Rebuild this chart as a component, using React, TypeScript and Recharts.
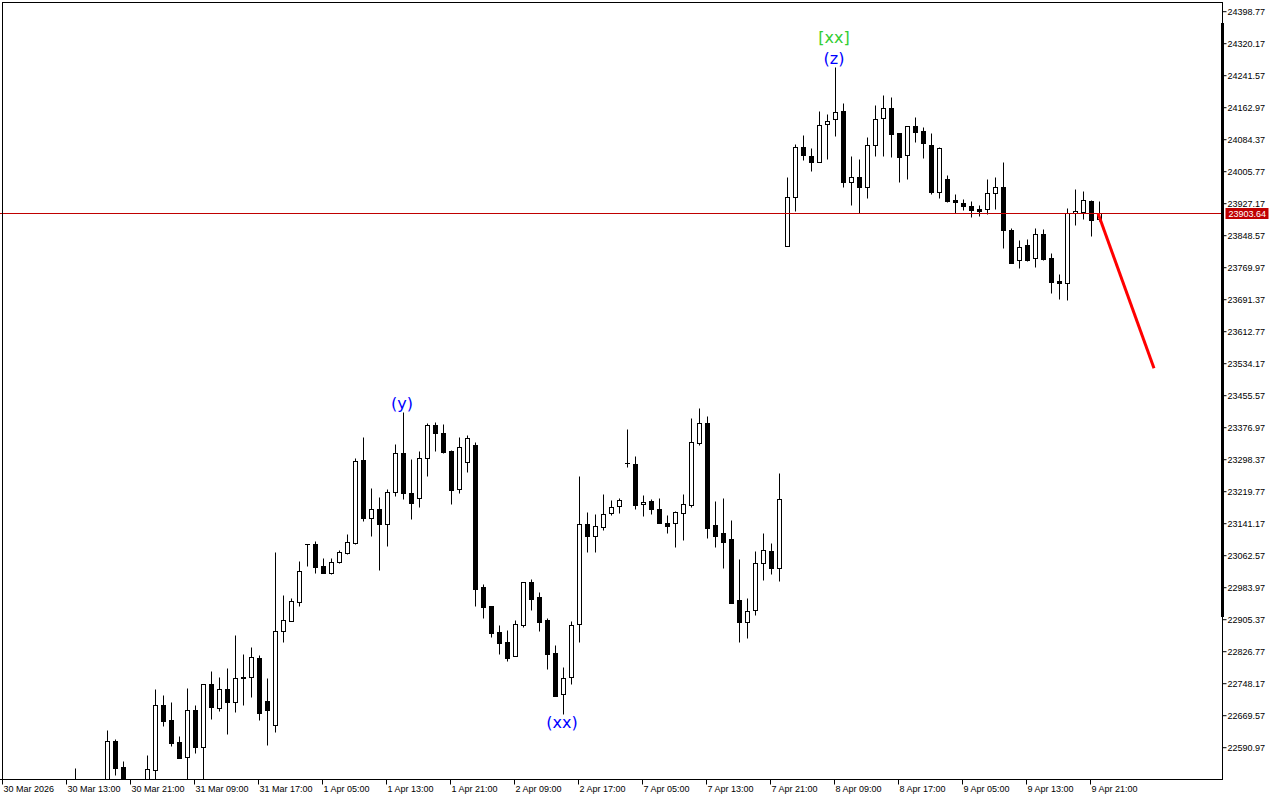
import React from 'react';
import { ComposedChart, Bar, Line, XAxis, YAxis, ReferenceLine, ReferenceDot } from 'recharts';

// ---------- data ----------
const FIRST_BAR = 9; // slot index of first candle in the arrays
const SLOT_COUNT = 153; // hourly slots across the visible window

const opens: (number | null)[] = [
  22495, null, null, null, 22470, 22607.6, 22543.8, null, null, 22480,
  22536, 22696, 22659, 22605, 22569, 22683.7, 22593.7, 22747, 22689.4, 22735.3,
  22704, 22764, 22764, 22810.7, 22706.4, 22647, 22877.7, 22903, 22949.7, 23090.6,
  23090.6, 23037.4, 23021, 23046.5, 23070, 23093.1, 23297.7, 23156, 23177.4, 23139.8,
  23218.4, 23314.2, 23216, 23203.6, 23301.8, 23383.7, 23364.8, 23320.5, 23226.5, 23293.6,
  23334.5, 22985, 22939, 22875.3, 22850.8, 22817, 22892.4, 22998.8, 22962, 22904.7,
  22823, 22722.3, 22765.5, 22894, 23139.8, 23111.8, 23134, 23166.8, 23185.5, 23289.6,
  23287.9, 23188.9, 23197, 23177.4, 23143, 23142.2, 23168.4, 23187.3, 23340.2, 23387.8,
  23138, 23117.6, 23103.7, 22953.8, 22900.6, 22928.4, 23044, 23074.2, 23031.6, 23824,
  23944.4, 24065.7, 24044.3, 24030.4, 24122.2, 24134.5, 24154.9, 23979.7, 23992, 23969,
  24071.4, 24137, 24161.5, 24100.1, 24046.8, 24118, 24105.8, 24071.4, 23955.2, 23987.9,
  23936.9, 23928.9, 23922.2, 23913.4, 23913.4, 23952.7, 23967.5, 23862.6, 23788.9, 23825.7,
  23793, 23852.8, 23793, 23737.3, 23731.6, 23903.6, 23907.5, 23934.6, 23889,
];
const highs: (number | null)[] = [
  22541, null, null, null, 22634.6, 22612.5, 22558.5, null, null, 22573,
  22735.3, 22720.6, 22702.6, 22619.9, 22737.8, 22696, 22747, 22779.5, 22765.5, 22787.7,
  22868, 22821, 22838.4, 22818.8, 22761.6, 23071, 22966, 22958, 23049.7, 23090.6,
  23098.8, 23056.3, 23056.3, 23076.6, 23115.2, 23301.8, 23353.5, 23228, 23206, 23226.5,
  23337, 23416.4, 23299.5, 23320.5, 23387.8, 23390.3, 23386, 23322, 23353.5, 23359.1,
  23341, 22993.1, 22939, 22892.4, 22880, 22904.7, 22998.8, 23004.7, 22974.3, 22908.9,
  22842.6, 22788.5, 22902.3, 23258.4, 23169.3, 23165.1, 23214, 23199.4, 23203.6, 23373.9,
  23307.6, 23211.8, 23201.9, 23203.6, 23162.7, 23172.5, 23214, 23400, 23424.6, 23405.8,
  23197, 23203.6, 23150.4, 23054.5, 22958, 23074.2, 23117.6, 23093.1, 23266.5, 23992,
  24073.8, 24096, 24063.3, 24154.9, 24147.5, 24262, 24173.8, 24044.3, 24036.2, 24091.8,
  24169.6, 24194.2, 24190, 24100.1, 24118, 24139.4, 24116.3, 24100.1, 24067.2, 23997.7,
  23951.7, 23938, 23933.8, 23924, 23987.9, 23993.5, 24028.9, 23866.8, 23838, 23840.5,
  23866.8, 23864.3, 23805.4, 23753.8, 23916, 23962.6, 23958.4, 23936.3, 23933.8,
];
const lows: (number | null)[] = [
  22460, null, null, null, 22460, 22524, 22470, null, null, 22470,
  22500, 22645, 22596, 22566.5, 22505, 22577, 22500, 22661.6, 22682, 22624,
  22679.5, 22697, 22716, 22659, 22597, 22630, 22851.5, 22902, 22939, 23038,
  23019, 23021, 23017, 23044, 23066.8, 23091.4, 23148, 23111.8, 23027.5, 23087.2,
  23209.3, 23201.2, 23152, 23181.5, 23259, 23319.8, 23315.6, 23189.9, 23217.4, 23269,
  22939.8, 22910.3, 22863.7, 22820, 22804.8, 22817, 22888, 22929.3, 22877.7, 22784.5,
  22718.9, 22673, 22746.9, 22851.5, 23072.6, 23072.6, 23125.7, 23162.7, 23168.4, 23281.3,
  23176.7, 23161, 23166, 23142.2, 23117.6, 23084.8, 23101, 23183, 23334.5, 23106.9,
  23084.8, 23033.2, 22945.7, 22851.5, 22861.2, 22917, 23003, 23017.7, 23000.5, 23824,
  23910, 24034.5, 24008, 24028.9, 24037, 24094.2, 23969, 23924, 23903.6, 23941.9,
  24045, 24045, 24041.2, 23981.2, 23987.9, 24079.5, 24038.7, 23950.3, 23941.9, 23932.1,
  23904, 23911.7, 23895.3, 23897.7, 23901.1, 23913.4, 23819.1, 23780.8, 23768.5, 23787.2,
  23772.5, 23788.9, 23708.6, 23693.1, 23690.6, 23874.9, 23889.6, 23848, 23884.7,
];
const closes: (number | null)[] = [
  22480, null, null, null, 22607.6, 22542, 22490, null, null, 22538,
  22696, 22656.7, 22603.4, 22566.5, 22683, 22593.7, 22746.9, 22691.9, 22735.3, 22704,
  22762, 22761.6, 22813, 22675.6, 22683.7, 22877.7, 22904.8, 22951.5, 23025, 23090.6,
  23035.6, 23021, 23046.5, 23071, 23095.6, 23295, 23156, 23177.4, 23139.8, 23218.4,
  23314.2, 23216, 23191.4, 23301.8, 23383.7, 23363.3, 23318, 23224, 23329, 23351,
  22980.8, 22937.4, 22873.5, 22847.5, 22812, 22894, 22997.3, 22956.3, 22900.6, 22821,
  22718.9, 22761.6, 22892.4, 23139.8, 23111.8, 23134.9, 23165.1, 23183, 23199.4, 23289.6,
  23187.3, 23193.9, 23176.7, 23143.7, 23136.4, 23169.3, 23188.9, 23341, 23387.8, 23131.4,
  23111.8, 23097, 22947.2, 22900.6, 22926.8, 23044, 23076.6, 23031.6, 23201.2, 23944.4,
  24065.7, 24046.8, 24030.4, 24120.5, 24129.6, 24153.2, 23981.2, 23992, 23969, 24070.6,
  24134.5, 24161.5, 24098.4, 24042.6, 24118, 24104, 24075.6, 23956.7, 24063.3, 23933.9,
  23930.4, 23920.6, 23910.7, 23909.3, 23952.7, 23967.5, 23862.6, 23782.3, 23821.6, 23788.9,
  23852, 23791.4, 23735.6, 23731.6, 23903.6, 23909.3, 23936.3, 23887.2, 23903.64,
];

const timeTicks = [0, 8, 16, 24, 32, 40, 48, 56, 64, 72, 80, 88, 96, 104, 112, 120, 128, 136];
const timeLabels = [
  '30 Mar 2026', '30 Mar 13:00', '30 Mar 21:00', '31 Mar 09:00', '31 Mar 17:00',
  '1 Apr 05:00', '1 Apr 13:00', '1 Apr 21:00', '2 Apr 09:00', '2 Apr 17:00',
  '7 Apr 05:00', '7 Apr 13:00', '7 Apr 21:00', '8 Apr 09:00', '8 Apr 17:00',
  '9 Apr 05:00', '9 Apr 13:00', '9 Apr 21:00',
];

const priceTicks = [
  24398.77, 24320.17, 24241.57, 24162.97, 24084.37, 24005.77, 23927.17, 23848.57,
  23769.97, 23691.37, 23612.77, 23534.17, 23455.57, 23376.97, 23298.37, 23219.77,
  23141.17, 23062.57, 22983.97, 22905.37, 22826.77, 22748.17, 22669.57, 22590.97,
];
const priceDomain = [22512.86, 24421.37];

const lastPrice = 23903.64;
const forecastBars = [137, 144];
const forecastPrices = [23903.64, 23523];

const waveBars = [50, 70, 104, 104];
const waveTexts = ['(y)', '(xx)', '(z)', '[xx]'];
const waveSides = ['high', 'low', 'high', 'high'];

// ---------- styles ----------
const AXIS_FONT = 'Liberation Sans, Arial, sans-serif';
const WAVE_FONT = 'DejaVu Sans, Verdana, sans-serif';
const waveColors = ['#0000ff', '#0000ff', '#0000ff', '#32cd32'];
const waveDy = [-3, 14, -3, -24];
const BULL_FILL = '#ffffff';
const BEAR_FILL = '#000000';
const PRICE_LINE = '#c00000';

// ---------- table ----------
const rows = Array.from({ length: SLOT_COUNT }, (_, i) => {
  const j = i - FIRST_BAR;
  const inside = j >= 0 && j < opens.length;
  const fIdx = forecastBars.indexOf(i);
  return {
    i,
    open: inside ? opens[j] : null,
    high: inside ? highs[j] : null,
    low: inside ? lows[j] : null,
    close: inside ? closes[j] : null,
    fc: fIdx >= 0 ? forecastPrices[fIdx] : null,
  };
});

const snap = (v: number) => Math.round(v) + 0.5;

const Candle = (props: any) => {
  const { x, y, width, height, payload } = props;
  if (!payload || payload.high == null || payload.low == null) return null;
  if (![x, y, width, height].every((v) => Number.isFinite(v))) return null;
  const { open, close, high, low } = payload;
  const top = Math.min(y, y + height);
  const h = Math.abs(height);
  const span = high - low;
  const toY = (v: number) => (span > 0 ? top + ((high - v) / span) * h : top);
  const cx = Math.round(x + width / 2) + 0.5;
  const yO = toY(open);
  const yC = toY(close);
  const bTop = snap(Math.min(yO, yC));
  const bBot = snap(Math.max(yO, yC));
  const bull = close >= open;
  return (
    <g>
      <line x1={cx} x2={cx} y1={snap(toY(high))} y2={snap(toY(low))} stroke="#000" strokeWidth={1} />
      {bBot - bTop < 1 ? (
        <line x1={cx - 2.5} x2={cx + 2.5} y1={bTop} y2={bTop} stroke="#000" strokeWidth={1} />
      ) : (
        <rect x={cx - 2} y={bTop} width={4} height={bBot - bTop} fill={bull ? BULL_FILL : BEAR_FILL} stroke="#000" strokeWidth={1} />
      )}
    </g>
  );
};

const XTick = (props: any) => {
  const { x, y, payload } = props;
  const idx = timeTicks.indexOf(payload.value);
  if (idx < 0) return null;
  const tx = Math.round(x) + 0.5;
  return (
    <g>
      <line x1={tx} x2={tx} y1={y} y2={y + 5} stroke="#000" strokeWidth={1} />
      <text x={tx + 1} y={y + 12} fontSize={9} fontFamily={AXIS_FONT} fill="#000" textAnchor="start">
        {timeLabels[idx]}
      </text>
    </g>
  );
};

const PriceTag = (props: any) => {
  const vb = props.viewBox || {};
  const right = (vb.x ?? 0) + (vb.width ?? 0);
  const yy = Math.round(vb.y ?? 0);
  return (
    <g>
      <rect x={right + 3} y={yy - 5} width={43} height={11} fill={PRICE_LINE} />
      <text x={right + 6} y={yy + 4} fontSize={9} fontFamily={AXIS_FONT} fill="#fff">
        {lastPrice.toFixed(2)}
      </text>
    </g>
  );
};

const CrispLine = (props: any) => {
  const { x1, x2, y1, y2 } = props;
  if (![x1, x2, y1, y2].every((v) => Number.isFinite(v))) return null;
  return <line x1={x1} x2={x2} y1={snap(y1)} y2={snap(y2)} stroke={PRICE_LINE} strokeWidth={1} />;
};

const makeWaveLabel = (k: number) => (props: any) => {
  const vb = props.viewBox || {};
  const cx = (vb.x ?? 0) + (vb.width ?? 0) / 2;
  const cy = (vb.y ?? 0) + (vb.height ?? 0) / 2;
  return (
    <text x={cx} y={cy + waveDy[k]} textAnchor="middle" fontSize={16} fontFamily={WAVE_FONT} fill={waveColors[k]}>
      {waveTexts[k]}
    </text>
  );
};

export default function App() {
  return (
    <div style={{ position: 'absolute', left: 0, top: 0, width: 1280, height: 800, background: '#fff', overflow: 'hidden' }}>
      <ComposedChart
        width={1280}
        height={800}
        data={rows}
        margin={{ top: 2.5, right: 0, bottom: 0, left: -2 }}
        barSize={5}
      >
        <XAxis
          dataKey="i"
          type="category"
          ticks={timeTicks}
          interval={0}
          tick={<XTick />}
          tickLine={false}
          tickSize={0}
          tickMargin={0}
          height={20.5}
          padding={{ left: 0, right: 0.5 }}
          axisLine={{ stroke: '#000' }}
        />
        <YAxis
          orientation="right"
          width={57.5}
          domain={priceDomain}
          allowDataOverflow
          ticks={priceTicks}
          interval={0}
          tickSize={4}
          tickMargin={1}
          tickFormatter={(v: number) => v.toFixed(2)}
          tick={{ fontSize: 9, fontFamily: AXIS_FONT, fill: '#000' }}
          tickLine={{ stroke: '#000' }}
          axisLine={{ stroke: '#000' }}
        />
        <Bar
          dataKey={(d: any) => (d.high == null ? null : [d.low, d.high])}
          shape={<Candle />}
          isAnimationActive={false}
        />
        <ReferenceLine y={lastPrice} stroke={PRICE_LINE} strokeWidth={1} shape={CrispLine} label={PriceTag} />
        <Line
          dataKey="fc"
          stroke="#ff0000"
          strokeWidth={3}
          dot={false}
          activeDot={false}
          connectNulls
          isAnimationActive={false}
        />
        {waveBars.map((b, k) => {
          const r = rows[b];
          const yv = waveSides[k] === 'high' ? r.high : r.low;
          return (
            <ReferenceDot key={k} x={b} y={yv as number} r={0} fill="none" stroke="none" label={makeWaveLabel(k)} />
          );
        })}
      </ComposedChart>
      <div style={{ position: 'absolute', left: 2, top: 2, width: 1221, height: 778, boxSizing: 'border-box', border: '1px solid #000', pointerEvents: 'none' }} />
      <div style={{ position: 'absolute', left: 1221, top: 23, width: 3, height: 594, background: '#000', pointerEvents: 'none' }} />
    </div>
  );
}
